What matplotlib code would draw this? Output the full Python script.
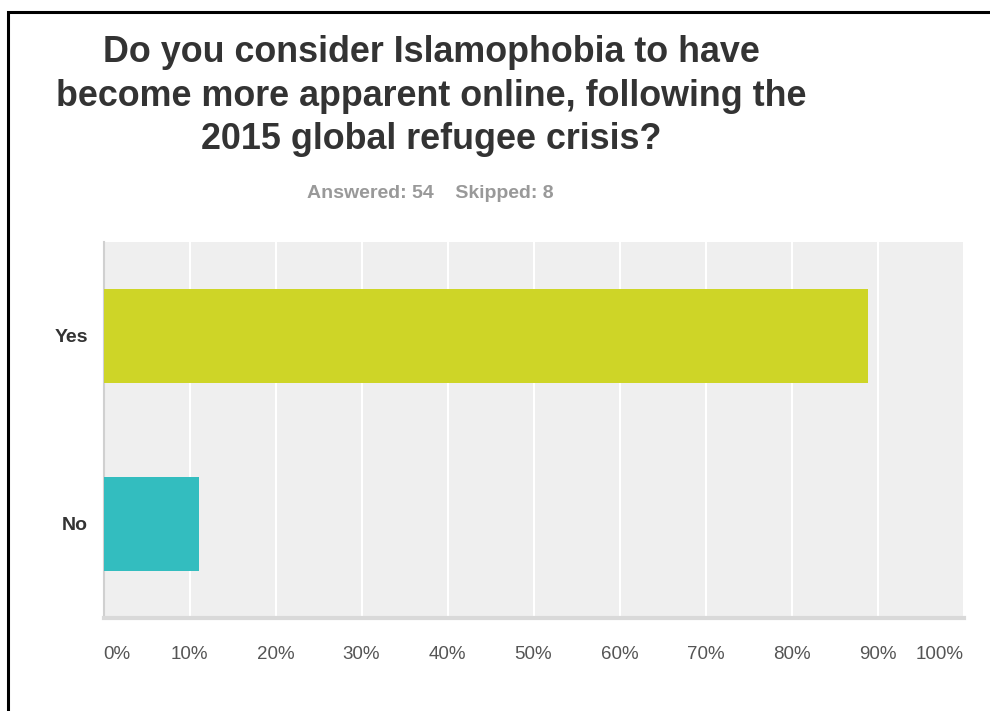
import matplotlib
matplotlib.use("Agg")
import matplotlib.pyplot as plt
from matplotlib.patches import Rectangle

categories = ["No", "Yes"]
values = [11.11, 88.89]
colors = ["#33BDBF", "#CED527"]
xticks = [0, 10, 20, 30, 40, 50, 60, 70, 80, 90, 100]
xtick_labels = [f"{t}%" for t in xticks]
title = "Do you consider Islamophobia to have\nbecome more apparent online, following the\n2015 global refugee crisis?"
subtitle = "Answered: 54    Skipped: 8"

plt.rcParams['font.family'] = ['Liberation Sans', 'DejaVu Sans']

W, H = 990, 711
fig = plt.figure(figsize=(W / 100, H / 100), dpi=100)
fig.patch.set_facecolor("white")

# outer frame
fig.add_artist(Rectangle((8 / W, -0.05), 1.1, 1 - 12 / H + 0.05, transform=fig.transFigure,
                         fill=False, edgecolor="black", linewidth=2.2))

ax = fig.add_axes([103.5 / W, 1 - 618 / H, 860 / W, 376 / H])
ax.set_facecolor("#EFEFEF")
ypos = list(range(len(categories)))
ax.barh(ypos, values, height=0.5, color=colors, linewidth=0, zorder=3)
ax.set_xlim(0, 100)
ax.set_ylim(-0.5, 1.5)
ax.set_xticks(xticks)
ax.set_xticklabels(xtick_labels)
for lbl, t in zip(ax.get_xticklabels(), xticks):
    if t == 0:
        lbl.set_horizontalalignment("left")
    elif t == 100:
        lbl.set_horizontalalignment("right")
ax.tick_params(axis="x", length=0, pad=20, labelsize=13.5, labelcolor="#555555")
ax.set_yticks(ypos)
ax.set_yticklabels(categories, fontweight="bold", fontsize=14, color="#333333")
ax.tick_params(axis="y", length=0, pad=11)
ax.grid(axis="x", color="white", linewidth=1.5, zorder=1)
ax.set_axisbelow(True)
for s in ["top", "right"]:
    ax.spines[s].set_visible(False)
ax.spines["left"].set_color("#D0D0D0")
ax.spines["left"].set_linewidth(1.5)
ax.spines["bottom"].set_color("#D9D9D9")
ax.spines["bottom"].set_linewidth(3)

fig.text(431 / W, 1 - 96 / H, title, ha="center", va="center", fontsize=25.8,
         fontweight="bold", color="#333333", linespacing=1.3)
fig.text(430 / W, 1 - 193 / H, subtitle, ha="center", va="center", fontsize=14,
         fontweight="bold", color="#999999")

fig.savefig("out.png", dpi=100)
